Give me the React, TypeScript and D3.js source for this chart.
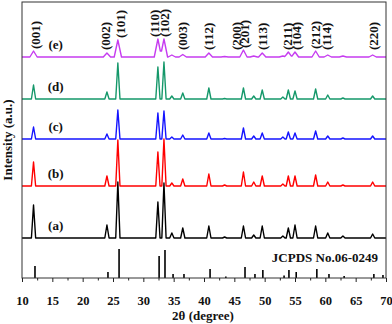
import React, { useEffect, useRef } from 'react';
import * as d3 from 'd3';

// reflection positions (2θ) shared by all samples
const peakPos = [11.9, 24.0, 25.8, 32.4, 33.4, 34.7, 36.5, 40.8, 43.4, 46.5, 48.2, 49.6, 53.0, 53.9, 55.0, 58.4, 60.4, 62.9, 67.8];

// peak heights per sample (a.u.)
const heightsA = [33, 13, 56, 36, 55, 5, 10, 12, 1, 12, 3, 12, 2, 10, 13, 12, 5, 2, 4];
const heightsB = [24, 10, 46, 34, 47, 3, 7, 12, 1, 14, 4, 10, 2, 10, 10, 11, 4, 1, 4];
const heightsC = [12, 5, 29, 26, 28, 2, 4, 6, 0.5, 11, 3, 6, 2, 7, 6, 8, 3, 1, 3];
const heightsD = [14, 7, 36, 32, 37, 3, 6, 11, 0.5, 11, 3, 9, 2, 9, 8, 10, 4, 1, 3];
const heightsE = [6, 4, 17, 18, 18, 2, 2.5, 4, 0.5, 7, 1, 4, 1, 5, 5, 6, 2, 1, 2];

const sampleNames = ['(a)', '(b)', '(c)', '(d)', '(e)'];
const sampleOffsets = [40, 92, 139, 179, 221];
const sampleWidths = [0.35, 0.35, 0.35, 0.35, 0.6];

// JCPDS No.06-0249 reference lines
const stickPos = [12.14, 24.17, 26.0, 32.6, 33.57, 34.9, 36.7, 41.0, 43.6, 46.76, 48.4, 49.7, 53.2, 54.0, 55.2, 58.6, 60.6, 63.1, 68.0, 69.5];
const stickH = [12, 6, 29, 22, 28, 4, 4, 9, 1.5, 11, 4, 8, 2.5, 8, 6, 9, 4, 2, 4, 3];

const hklText = ['(001)', '(002)', '(101)', '(110)', '(102)', '(003)', '(112)', '(200)', '(201)', '(113)', '(211)', '(104)', '(212)', '(114)', '(220)'];
const hklPos = [12.14, 23.7, 26.15, 31.8, 33.4, 36.4, 40.8, 45.3, 46.6, 49.6, 53.7, 55.2, 58.3, 60.1, 67.85];

const xTicks = [10, 15, 20, 25, 30, 35, 40, 45, 50, 55, 60, 65, 70];
const xMinorTicks = [12.5, 17.5, 22.5, 27.5, 32.5, 37.5, 42.5, 47.5, 52.5, 57.5, 62.5, 67.5];

const sampleHeights = [heightsA, heightsB, heightsC, heightsD, heightsE];
const colors = ['#000000', '#ff0000', '#1414ff', '#15986a', '#c63cf0'];
const FONT = '"Liberation Serif", "Times New Roman", serif';

function profileAt(t: number, heights: number[], w: number) {
  let v = 0;
  peakPos.forEach((p, i) => {
    const d = Math.abs(t - p);
    if (d < w) v += heights[i] * (1 - d / w);
  });
  return v;
}

function profilePoints(heights: number[], w: number) {
  let xs = [10, 70];
  peakPos.forEach(p => xs.push(p - w, p, p + w));
  xs = xs.filter(t => t >= 10 && t <= 70).sort((a, b) => a - b);
  return xs.map(t => [t, profileAt(t, heights, w)]);
}

export default function App() {
  const axisRef = useRef<SVGGElement>(null);
  const x = d3.scaleLinear().domain([10, 70]).range([22, 386]);
  const y = d3.scaleLinear().domain([0, 276]).range([278, 2]);

  useEffect(() => {
    const g = d3.select(axisRef.current);
    g.selectAll('*').remove();
    const major = d3.axisBottom(x).tickValues(xTicks).tickSize(4).tickPadding(14).tickFormat(d3.format('d'));
    const minor = d3.axisBottom(x).tickValues(xMinorTicks).tickSize(2.5).tickFormat(() => '');
    g.append('g').call(minor).select('.domain').remove();
    g.append('g').call(major).select('.domain').remove();
    g.selectAll('line').attr('stroke', '#222').attr('stroke-width', 1);
    g.selectAll('text')
      .attr('font-family', FONT)
      .attr('font-weight', 'bold')
      .attr('font-size', 12.5)
      .attr('fill', '#111');
  }, []);

  const offE = sampleOffsets[4];
  const hklBottom = (pos: number) => {
    let m = 0;
    for (let t = pos - 0.6; t <= pos + 0.6; t += 0.05) m = Math.max(m, profileAt(t, heightsE, sampleWidths[4]));
    return Math.min(y(offE) - 7, y(offE + m) - 2);
  };

  return (
    <svg width={392} height={324} style={{ position: 'absolute', left: 0, top: 0, background: '#fff' }}>
      {[4, 3, 2, 1, 0].map(i => {
        const line = d3
          .line<number[]>()
          .x(d => x(d[0]))
          .y(d => y(sampleOffsets[i] + d[1]));
        return (
          <path key={i} d={line(profilePoints(sampleHeights[i], sampleWidths[i])) || ''} fill="none" stroke={colors[i]} strokeWidth={1.4} strokeLinejoin="round" />
        );
      })}
      {stickPos.map((p, i) => (
        <line key={i} x1={x(p)} x2={x(p)} y1={y(0)} y2={y(stickH[i])} stroke="#000" strokeWidth={1.6} />
      ))}
      {sampleNames.map((s, i) => (
        <text key={s} x={x(15.55)} y={y(sampleOffsets[i]) - 8} textAnchor="middle" fontFamily={FONT} fontWeight="bold" fontSize={13} fill="#111">
          {s}
        </text>
      ))}
      {hklText.map((s, i) => {
        const bx = x(hklPos[i]);
        const by = hklBottom(hklPos[i]);
        return (
          <text key={s} transform={`translate(${bx},${by}) rotate(-90)`} dy="0.35em" fontFamily={FONT} fontWeight="bold" fontSize={13} fill="#111">
            {s}
          </text>
        );
      })}
      <text x={378} y={262} textAnchor="end" fontFamily={FONT} fontWeight="bold" fontSize={13} fill="#111">
        JCPDS No.06-0249
      </text>
      <rect x={22} y={2} width={364} height={276} fill="none" stroke="#333" strokeWidth={1} />
      <g ref={axisRef} transform="translate(0,278)" />
      <text x={203} y={320} textAnchor="middle" fontFamily={FONT} fontWeight="bold" fontSize={13} fill="#111">
        2θ (degree)
      </text>
      <text transform="translate(7,140) rotate(-90)" dy="0.35em" textAnchor="middle" fontFamily={FONT} fontWeight="bold" fontSize={13} fill="#111">
        Intensity (a.u.)
      </text>
    </svg>
  );
}
